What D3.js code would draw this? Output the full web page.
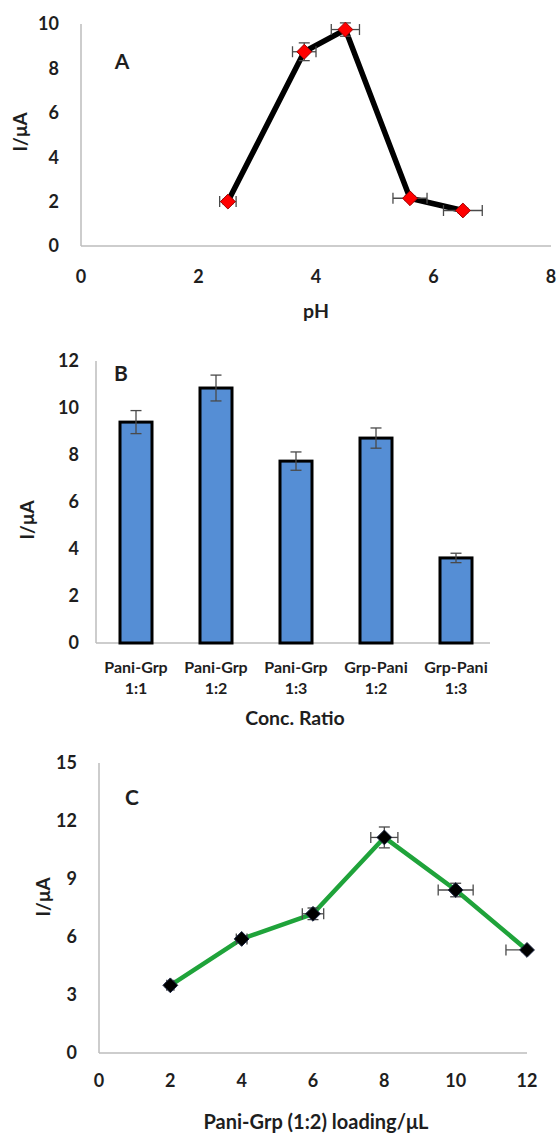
<!DOCTYPE html>
<html>
  <head>
    <meta charset="UTF-8">
    <title>Panels A B C</title>
    <script src="https://d3js.org/d3.v7.min.js"></script>
    <style>
      body { margin: 0; background: #fff; }
      text { font-family: Lato, "Open Sans", sans-serif; font-weight: 700; fill: #1e1e1e; }
    </style>
  </head>
  <body>
    <svg width="558" height="1135"></svg>

    <script>

// panel A: pH
const phX = [2.5, 3.8, 4.5, 5.6, 6.5];
const phY = [2.0, 8.75, 9.75, 2.15, 1.6];
const phXerr = [0.14, 0.2, 0.24, 0.29, 0.33];
const phYerr = [0.1, 0.4, 0.3, 0.1, 0.1];
const phXTicks = [0, 2, 4, 6, 8];
const phYTicks = [0, 2, 4, 6, 8, 10];

// panel B: ratios
const ratioTop = ["Pani-Grp", "Pani-Grp", "Pani-Grp", "Grp-Pani", "Grp-Pani"];
const ratioBottom = ["1:1", "1:2", "1:3", "1:2", "1:3"];
const ratioY = [9.4, 10.85, 7.74, 8.72, 3.62];
const ratioErr = [0.49, 0.55, 0.39, 0.43, 0.2];
const ratioYTicks = [0, 2, 4, 6, 8, 10, 12];

// panel C: loading
const loadX = [2, 4, 6, 8, 10, 12];
const loadY = [3.5, 5.9, 7.2, 11.15, 8.43, 5.33];
const loadXerr = [0.1, 0.15, 0.3, 0.38, 0.49, 0.59];
const loadYerr = [0.1, 0.15, 0.3, 0.54, 0.35, 0.1];
const loadXTicks = [0, 2, 4, 6, 8, 10, 12];
const loadYTicks = [0, 3, 6, 9, 12, 15];

const svg = d3.select("svg");
const axisColor = "#bdbdbd";
const errColor = "#4a4a4a";

function diamond(g, x, y, fill, stroke) {
  g.append("path")
    .attr("d", d3.symbol().type(d3.symbolDiamond2).size(140)())
    .attr("transform", `translate(${x},${y})`)
    .attr("fill", fill)
    .attr("stroke", stroke)
    .attr("stroke-width", 1);
}

function errBar(g, x1, y1, x2, y2, horiz) {
  g.append("line")
    .attr("x1", x1).attr("y1", y1).attr("x2", x2).attr("y2", y2)
    .attr("stroke", errColor).attr("stroke-width", 1.3);
  const c = 5.5;
  [[x1, y1], [x2, y2]].forEach(([x, y]) => {
    g.append("line")
      .attr("x1", horiz ? x : x - c).attr("x2", horiz ? x : x + c)
      .attr("y1", horiz ? y - c : y).attr("y2", horiz ? y + c : y)
      .attr("stroke", errColor).attr("stroke-width", 1.3);
  });
}

function axes(g, x, y, xTicks, yTicks, xLabY, yLabX) {
  const [x0, x1] = x.range();
  const [y0, y1] = y.range();
  g.append("line").attr("x1", x0).attr("x2", x0).attr("y1", y0).attr("y2", y1)
    .attr("stroke", axisColor).attr("stroke-width", 1.5);
  g.append("line").attr("x1", x0).attr("x2", x1).attr("y1", y0).attr("y2", y0)
    .attr("stroke", axisColor).attr("stroke-width", 1.5);
  g.selectAll(".yt").data(yTicks).join("text")
    .attr("x", yLabX).attr("y", d => y(d)).attr("dy", "0.36em")
    .attr("text-anchor", "end").attr("font-size", 18).text(d => d);
  if (xTicks) {
    g.selectAll(".xt").data(xTicks).join("text")
      .attr("x", d => x(d)).attr("y", xLabY).attr("dy", "0.36em")
      .attr("text-anchor", "middle").attr("font-size", 18).text(d => d);
  }
}

function label(g, txt, x, y, size, rot) {
  g.append("text").attr("text-anchor", "middle").attr("dy", "0.36em")
    .attr("font-size", size)
    .attr("transform", `translate(${x},${y})` + (rot ? " rotate(-90)" : ""))
    .text(txt);
}

// ---- A ----
{
  const g = svg.append("g");
  const x = d3.scaleLinear().domain([0, 8]).range([81, 551]);
  const y = d3.scaleLinear().domain([0, 10]).range([246, 24]);
  axes(g, x, y, phXTicks, phYTicks, 277, 59);
  label(g, "pH", 316, 311, 19.5);
  label(g, "I/μA", 20, 132, 19, true);
  label(g, "A", 122, 61, 21);
  const pts = phX.map((v, i) => [x(v), y(phY[i])]);
  g.append("path").attr("d", d3.line()(pts)).attr("fill", "none")
    .attr("stroke", "#000").attr("stroke-width", 5.5).attr("stroke-linejoin", "round");
  phX.forEach((v, i) => {
    errBar(g, x(v - phXerr[i]), y(phY[i]), x(v + phXerr[i]), y(phY[i]), true);
    errBar(g, x(v), y(phY[i] - phYerr[i]), x(v), y(phY[i] + phYerr[i]), false);
  });
  pts.forEach(p => diamond(g, p[0], p[1], "#ff0000", "#a00000"));
}

// ---- B ----
{
  const g = svg.append("g");
  const x = d3.scaleBand().domain(d3.range(ratioY.length)).range([96, 496]).paddingInner(0.6).paddingOuter(0.3);
  const y = d3.scaleLinear().domain([0, 12]).range([643, 361]);
  const lx = d3.scaleLinear().range([96, 490]);
  axes(g, lx, y, null, ratioYTicks, 0, 79);
  g.selectAll("rect").data(ratioY).join("rect")
    .attr("x", (d, i) => x(i)).attr("width", x.bandwidth())
    .attr("y", d => y(d)).attr("height", d => y(0) - y(d))
    .attr("fill", "#558ed5").attr("stroke", "#000").attr("stroke-width", 3);
  ratioY.forEach((v, i) => {
    const cx = x(i) + x.bandwidth() / 2;
    errBar(g, cx, y(v - ratioErr[i]), cx, y(v + ratioErr[i]), false);
    label(g, ratioTop[i], cx, 667, 16);
    label(g, ratioBottom[i], cx, 688, 16);
  });
  label(g, "Conc. Ratio", 295, 718, 19.5);
  label(g, "I/μA", 27, 520, 19, true);
  label(g, "B", 121, 373, 21);
}

// ---- C ----
{
  const g = svg.append("g");
  const x = d3.scaleLinear().domain([0, 12]).range([99, 527]);
  const y = d3.scaleLinear().domain([0, 15]).range([1053, 763]);
  axes(g, x, y, loadXTicks, loadYTicks, 1081, 77);
  label(g, "Pani-Grp (1:2) loading/μL", 316, 1122, 20);
  label(g, "I/μA", 43, 897, 19, true);
  label(g, "C", 132, 797, 21);

  // error bars are clipped to the plot area, like the original
  svg.append("clipPath").attr("id", "clipC").append("rect")
    .attr("x", 99).attr("y", 763).attr("width", 428).attr("height", 290);

  const pts = loadX.map((v, i) => [x(v), y(loadY[i])]);
  g.append("path").attr("d", d3.line()(pts)).attr("fill", "none")
    .attr("stroke", "#1fa33a").attr("stroke-width", 4.5).attr("stroke-linejoin", "round");
  const eg = g.append("g").attr("clip-path", "url(#clipC)");
  loadX.forEach((v, i) => {
    errBar(eg, x(v - loadXerr[i]), y(loadY[i]), x(v + loadXerr[i]), y(loadY[i]), true);
    errBar(eg, x(v), y(loadY[i] - loadYerr[i]), x(v), y(loadY[i] + loadYerr[i]), false);
  });
  pts.forEach(p => diamond(g, p[0], p[1], "#000", "#1a2440"));
}

    </script>
  </body>
</html>
